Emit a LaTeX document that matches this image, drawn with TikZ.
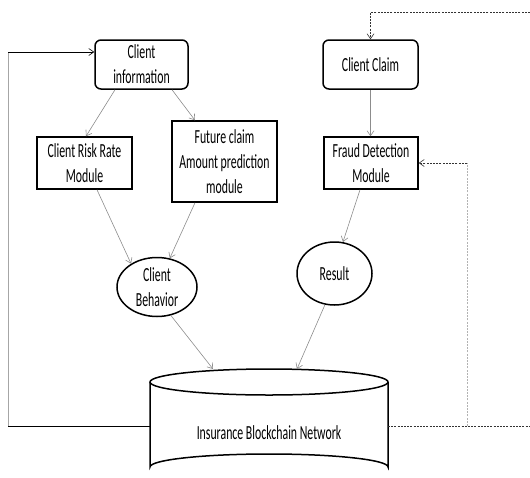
\documentclass[tikz,border=0pt]{standalone}
\usepackage{fontspec}
\newfontfamily\cf[FakeStretch=0.59]{Carlito}
\usetikzlibrary{arrows.meta,shapes.geometric,calc}
\tikzset{
  txt/.style={font=\cf\fontsize{20}{25}\selectfont},
  box/.style={draw=black,line width=1.5pt,align=center,inner sep=0pt,txt},
  rbox/.style={box,rounded corners=6pt},
  oval/.style={draw=black,line width=1.5pt,ellipse,align=center,inner sep=0pt,txt},
  flow/.style={draw=gray!90,line width=0.6pt,-{Straight Barb[length=5pt,width=7pt]}},
  loopline/.style={draw=black,line width=0.6pt},
  dline/.style={draw=black!80,line width=0.6pt,dash pattern=on 2pt off 1.2pt},
  dgray/.style={draw=gray!60,line width=0.8pt,dash pattern=on 2pt off 1.2pt},
  darrow/.style={-{Straight Barb[length=5pt,width=7pt]}}
}
\begin{document}
\begin{tikzpicture}[x=1pt,y=-1pt]
\useasboundingbox (0,0) rectangle (530,477);
\node[rbox,minimum width=93pt,minimum height=49pt] (ci) at (141.5,64.5) {Client\\information};
\node[box,minimum width=95pt,minimum height=52pt] (rr) at (84.5,163) {Client Risk Rate\\Module};
\node[box,minimum width=105pt,minimum height=81pt] (fc) at (224.5,161.5) {Future claim\\Amount prediction\\module};
\node[rbox,minimum width=95pt,minimum height=49pt] (cc) at (370.5,64.5) {Client Claim};
\node[box,minimum width=94pt,minimum height=52pt] (fd) at (371,163) {Fraud Detection\\Module};
\node[oval,minimum width=80pt,minimum height=59pt] (cb) at (157,287) {Client\\Behavior};
\node[oval,minimum width=75pt,minimum height=63pt] (res) at (334.5,273.5) {Result};
% cylinder
\draw[line width=1.5pt,fill=white] (150,382) -- (150,467) arc[start angle=180,end angle=360,x radius=119,y radius=13] -- (388,382);
\draw[line width=1.5pt] (269,382) ellipse [x radius=119,y radius=13];
\node[txt] (net) at (269,433) {Insurance Blockchain Network};
\coordinate (cylA) at (213,369);
\coordinate (cylB) at (297,369);
\coordinate (cylL) at (150,426);
\coordinate (cylR) at (388,426);
\coordinate (lc) at (8,426);
\coordinate (re) at (530,426);
\coordinate (rv) at (467,426);
\coordinate (te) at (530,12);
\coordinate (ciin) at ([yshift=12.5pt]ci.west);
% flows
\draw[flow] ([xshift=-26.5pt]ci.south) -- ([xshift=1.5pt]rr.north);
\draw[flow] ([xshift=30.5pt]ci.south) -- ([xshift=-29.5pt]fc.north);
\draw[flow] ([xshift=12.5pt]rr.south) -- (cb.138);
\draw[flow] ([xshift=-29.5pt]fc.south) -- (cb.66);
\draw[flow] (cc.south) -- (cc.south |- fd.north);
\draw[flow] ([xshift=-11pt]fd.south) -- (res.75);
\draw[flow] (cb.-64) -- (cylA);
\draw[flow] (res.-107) -- (cylB);
% left loop
\draw[loopline] (cylL) -- (lc);
\draw[draw=gray!70,line width=0.8pt] (lc) -- (lc |- ciin);
\draw[loopline,darrow] (lc |- ciin) -- (ciin);
% right dashed
\draw[dline] (cylR) -- (re);
\draw[dgray] (rv) -- (rv |- fd.east);
\draw[dline,darrow] (rv |- fd.east) -- (fd.east);
\draw[dline,darrow] (te) -- (cc.north |- te) -- (cc.north);
\end{tikzpicture}
\end{document}
